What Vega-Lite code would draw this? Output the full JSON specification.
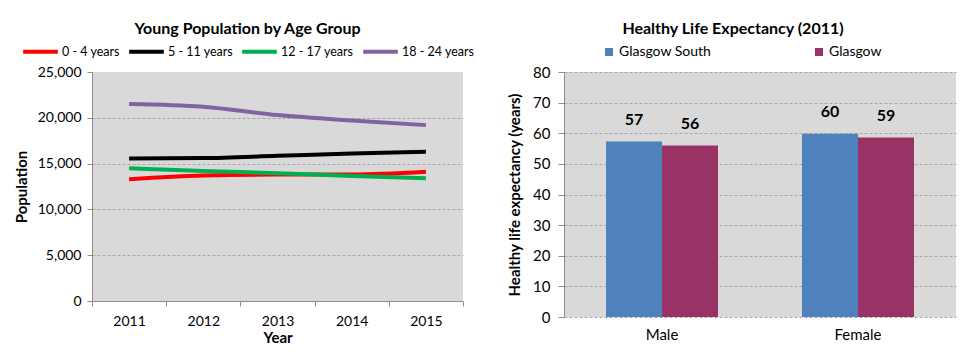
{
  "$schema": "https://vega.github.io/schema/vega-lite/v6.json",
  "background": "white",
  "padding": {"left": 14, "top": 21, "right": 5, "bottom": 3},
  "spacing": 32,
  "resolve": {"scale": {"color": "independent"}, "legend": {"color": "independent"}},
  "config": {
    "font": "Lato",
    "view": {"fill": "#D9D9D9", "stroke": null},
    "axis": {"labelFont": "Lato", "titleFont": "Lato", "labelColor": "#000", "titleColor": "#000", "domainColor": "#8C8C8C", "tickColor": "#8C8C8C", "gridColor": "#A6A6A6", "gridDash": [3, 2]},
    "legend": {"labelFont": "Lato", "labelColor": "#000"}
  },
  "datasets": {
    "pop": [
      {"Year": "2011", "Age": "0 - 4 years", "Population": 13300},
      {"Year": "2012", "Age": "0 - 4 years", "Population": 13700},
      {"Year": "2013", "Age": "0 - 4 years", "Population": 13800},
      {"Year": "2014", "Age": "0 - 4 years", "Population": 13800},
      {"Year": "2015", "Age": "0 - 4 years", "Population": 14100},
      {"Year": "2011", "Age": "5 - 11 years", "Population": 15550},
      {"Year": "2012", "Age": "5 - 11 years", "Population": 15600},
      {"Year": "2013", "Age": "5 - 11 years", "Population": 15850},
      {"Year": "2014", "Age": "5 - 11 years", "Population": 16100},
      {"Year": "2015", "Age": "5 - 11 years", "Population": 16300},
      {"Year": "2011", "Age": "12 - 17 years", "Population": 14500},
      {"Year": "2012", "Age": "12 - 17 years", "Population": 14200},
      {"Year": "2013", "Age": "12 - 17 years", "Population": 13950},
      {"Year": "2014", "Age": "12 - 17 years", "Population": 13650},
      {"Year": "2015", "Age": "12 - 17 years", "Population": 13400},
      {"Year": "2011", "Age": "18 - 24 years", "Population": 21500},
      {"Year": "2012", "Age": "18 - 24 years", "Population": 21200},
      {"Year": "2013", "Age": "18 - 24 years", "Population": 20300},
      {"Year": "2014", "Age": "18 - 24 years", "Population": 19700},
      {"Year": "2015", "Age": "18 - 24 years", "Population": 19200}
    ],
    "hle": [
      {"Sex": "Male", "Area": "Glasgow South", "Years": 57.3},
      {"Sex": "Male", "Area": "Glasgow", "Years": 56.0},
      {"Sex": "Female", "Area": "Glasgow South", "Years": 59.8},
      {"Sex": "Female", "Area": "Glasgow", "Years": 58.6}
    ]
  },
  "hconcat": [
    {
      "width": 371,
      "height": 229,
      "data": {"name": "pop"},
      "title": {"text": "Young Population by Age Group", "font": "Lato", "fontSize": 16, "fontWeight": "bold", "anchor": "middle", "dx": -30, "offset": -5, "color": "#000"},
      "mark": {"type": "line", "strokeWidth": 4, "interpolate": "monotone"},
      "encoding": {
        "x": {
          "field": "Year", "type": "ordinal",
          "scale": {"type": "band", "paddingInner": 0, "paddingOuter": 0},
          "axis": {"tickBand": "extent", "labelAngle": 0, "title": "Year", "titleFontSize": 15, "titleFontWeight": "bold", "labelFontSize": 14, "tickSize": 5, "labelPadding": 8, "titlePadding": 2, "grid": false}
        },
        "y": {
          "field": "Population", "type": "quantitative",
          "scale": {"domain": [0, 25000]},
          "axis": {"values": [0, 5000, 10000, 15000, 20000, 25000], "format": ",.0f", "title": "Population", "titleFontSize": 15, "titleFontWeight": "bold", "labelFontSize": 14, "tickSize": 5, "labelPadding": 6, "titlePadding": 8,
            "gridOpacity": {"condition": {"test": "datum.value == 25000 || datum.value == 0", "value": 0}, "value": 1}}
        },
        "color": {
          "field": "Age", "type": "nominal",
          "scale": {"domain": ["0 - 4 years", "5 - 11 years", "12 - 17 years", "18 - 24 years"], "range": ["#FF0000", "#000000", "#00B050", "#8064A2"]},
          "legend": {"orient": "none", "legendX": -71, "legendY": -40, "direction": "horizontal", "title": null, "symbolType": "stroke", "symbolSize": 1200, "symbolStrokeWidth": 4, "labelFontSize": 12.5, "labelOffset": 2, "columnPadding": 1}
        }
      }
    },
    {
      "width": 392,
      "height": 245,
      "data": {"name": "hle"},
      "title": {"text": "Healthy Life Expectancy (2011)", "font": "Lato", "fontSize": 16, "fontWeight": "bold", "anchor": "middle", "dx": -27, "offset": 8, "color": "#000"},
      "encoding": {
        "x": {
          "field": "Sex", "type": "nominal", "sort": ["Male", "Female"],
          "scale": {"type": "band", "paddingInner": 0, "paddingOuter": 0},
          "axis": {"labelAngle": 0, "title": null, "ticks": false, "domain": false, "labelFontSize": 15, "labelPadding": 10}
        },
        "xOffset": {
          "field": "Area", "type": "nominal", "sort": ["Glasgow South", "Glasgow"],
          "scale": {"paddingInner": 0, "paddingOuter": 0.75}
        },
        "y": {
          "field": "Years", "type": "quantitative",
          "scale": {"domain": [0, 80]},
          "axis": {"values": [0, 10, 20, 30, 40, 50, 60, 70, 80], "title": "Healthy life expectancy (years)", "titleFontSize": 15, "titleFontWeight": "bold", "labelFontSize": 15, "tickSize": 6, "labelPadding": 8, "titlePadding": 10}
        }
      },
      "layer": [
        {
          "mark": {"type": "bar"},
          "encoding": {
            "color": {
              "field": "Area", "type": "nominal",
              "scale": {"domain": ["Glasgow South", "Glasgow"], "range": ["#4F81BD", "#993366"]},
              "legend": {"orient": "none", "legendX": 38, "legendY": -27, "direction": "horizontal", "title": null, "symbolType": "square", "symbolSize": 64, "symbolStrokeWidth": 0, "labelFontSize": 14, "labelOffset": 3, "columnPadding": 100}
            }
          }
        },
        {
          "mark": {"type": "text", "fontSize": 16, "fontWeight": "bold", "dy": -14, "baseline": "bottom", "color": "#000"},
          "encoding": {
            "text": {"field": "Years", "type": "quantitative", "format": ".0f"}
          }
        }
      ]
    }
  ]
}
